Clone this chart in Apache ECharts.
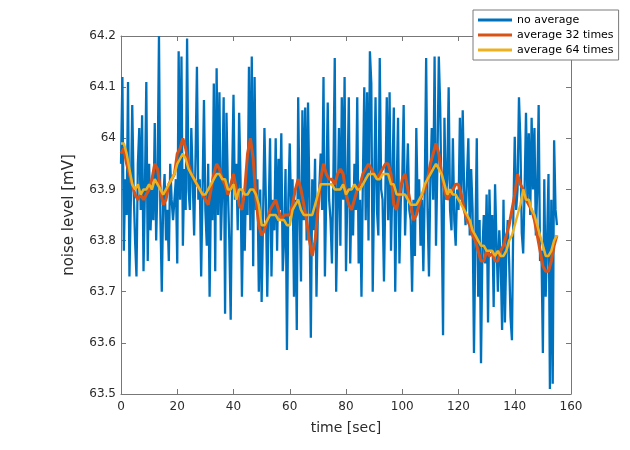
<!DOCTYPE html>
<html>
<head>
<meta charset="utf-8">
<script src="https://cdn.jsdelivr.net/npm/echarts@6/dist/echarts.min.js"></script>
<style>
html,body{margin:0;padding:0;background:#fff;}
#chart{width:630px;height:450px;}
</style>
</head>
<body>
<div id="chart"></div>
<script>
// ---- data ----
const seriesNames = ['no average', 'average 32 times', 'average 64 times'];
const xTicks = [0, 20, 40, 60, 80, 100, 120, 140, 160];
const yTicks = [63.5, 63.6, 63.7, 63.8, 63.9, 64, 64.1, 64.2];
const blueStep = 0.5;   // seconds per sample (no average)
const avgStep = 1;      // seconds per sample (averaged)
const noAverage = [
63.95,64.12, 63.78,63.92, 63.85,64.11, 63.73,63.88, 64.065,63.90,
63.80,63.73, 63.95,64.02, 63.86,64.045, 63.74,63.90, 64.11,63.76,
63.95,63.82, 63.90,63.84, 64.03,63.80, 63.92,64.20, 63.85,63.70,
63.88,63.93, 63.80,63.86, 63.76,63.95, 63.88,63.84, 63.84,63.92,
63.755,64.17, 63.88,64.16, 63.79,63.94, 63.86,64.195, 63.90,63.86,
64.02,63.92, 63.81,63.96, 64.14,63.88, 63.92,63.73, 63.90,64.075,
63.86,63.79, 63.95,63.69, 63.90,63.84, 64.107,63.74, 64.137,63.85,
64.09,63.80, 63.90,64.08, 63.657,64.05, 63.90,63.80, 63.645,63.92,
64.085,63.88, 63.95,63.82, 64.05,63.92, 63.69,63.88, 63.78,63.93,
63.85,64.14, 63.82,64.16, 63.75,64.12, 63.86,63.92, 63.70,63.90,
63.68,63.84, 64.02,63.88, 63.69,63.85, 64.00,63.73, 63.88,63.82,
64.00,63.78, 63.96,63.86, 64.01,63.74, 63.80,63.94, 63.586,63.88,
63.99,63.85, 63.92,63.69, 63.88,63.625, 64.08,63.86, 63.72,64.055,
63.84,64.06, 63.80,64.07, 63.88,63.61, 63.92,63.82, 63.96,63.69,
63.86,63.90, 63.97,63.86, 64.12,63.73, 63.90,64.07, 63.88,63.84,
63.755,63.92, 64.157,63.70, 63.86,64.02, 63.79,64.08, 63.88,64.12,
63.74,63.90, 64.08,63.755, 63.90,63.81, 63.95,63.86, 64.08,63.755,
63.88,63.69, 63.92,64.10, 63.84,64.09, 63.80,64.17, 64.107,63.70,
63.90,64.08, 63.86,63.81, 64.157,63.90, 63.88,63.72, 63.90,64.08,
63.84,64.09, 63.78,63.92, 64.06,63.70, 63.90,64.04, 63.755,63.88,
63.92,64.065, 63.81,63.90, 63.99,63.86, 63.84,63.70, 63.88,63.77,
64.02,63.86, 63.92,63.79, 63.88,63.74, 63.90,64.157, 63.86,63.73,
63.92,64.02, 63.88,64.16, 63.79,63.95, 64.16,64.06, 63.86,63.615,
64.04,63.88, 63.92,64.10, 63.86,63.82, 64.00,63.84, 63.79,63.90,
63.86,64.04, 63.88,64.055, 63.90,63.83, 63.92,64.00, 63.81,63.94,
63.86,63.58, 63.80,64.00, 63.69,63.84, 63.56,63.78, 63.85,63.755,
63.89,63.64, 63.90,63.78, 63.85,63.67, 63.91,63.80, 63.70,63.82,
63.76,63.625, 63.88,63.64, 63.78,63.84, 63.76,63.65, 63.605,63.85,
64.003,63.86, 63.90,64.08, 63.996,63.815, 63.775,63.90, 64.05,63.88,
64.01,63.85, 64.04,63.90, 64.02,63.81, 63.90,64.065, 63.76,63.78,
63.58,63.92, 63.69,63.80, 63.93,63.51, 63.88,63.52, 63.996,63.86,
63.83
];
const average32 = [
63.97,63.98,63.95,63.93,63.91,63.89,63.88,63.89,63.88,63.89,
63.90,63.92,63.95,63.94,63.90,63.87,63.88,63.91,63.92,63.93,
63.97,63.98,64.00,63.98,63.95,63.93,63.92,63.91,63.90,63.89,
63.88,63.87,63.90,63.93,63.95,63.94,63.92,63.91,63.89,63.91,
63.93,63.90,63.87,63.86,63.90,63.97,64.00,63.96,63.88,63.83,
63.81,63.82,63.84,63.86,63.87,63.88,63.86,63.84,63.85,63.85,
63.85,63.87,63.90,63.92,63.90,63.87,63.84,63.80,63.77,63.80,
63.86,63.92,63.95,63.93,63.92,63.92,63.91,63.93,63.94,63.93,
63.89,63.87,63.86,63.88,63.90,63.91,63.93,63.94,63.95,63.94,
63.93,63.92,63.93,63.94,63.95,63.95,63.93,63.87,63.86,63.89,
63.92,63.93,63.90,63.87,63.84,63.85,63.87,63.89,63.90,63.92,
63.95,63.97,63.99,63.97,63.93,63.90,63.88,63.89,63.90,63.91,
63.91,63.89,63.86,63.84,63.83,63.81,63.80,63.78,63.76,63.76,
63.78,63.77,63.775,63.76,63.76,63.78,63.79,63.81,63.83,63.86,
63.89,63.93,63.91,63.90,63.88,63.87,63.86,63.84,63.81,63.78,
63.75,63.74,63.74,63.76,63.79,63.81
];
const average64 = [
63.99,63.99,63.97,63.94,63.91,63.90,63.91,63.89,63.90,63.90,
63.91,63.90,63.92,63.91,63.90,63.89,63.90,63.91,63.92,63.93,
63.95,63.96,63.97,63.96,63.94,63.93,63.92,63.91,63.90,63.89,
63.89,63.90,63.91,63.92,63.93,63.93,63.92,63.92,63.90,63.90,
63.91,63.88,63.90,63.90,63.89,63.89,63.90,63.90,63.89,63.87,
63.83,63.83,63.84,63.85,63.85,63.85,63.84,63.84,63.84,63.83,
63.83,63.86,63.87,63.88,63.86,63.85,63.85,63.85,63.85,63.87,
63.89,63.91,63.91,63.91,63.91,63.91,63.90,63.90,63.90,63.91,
63.89,63.90,63.90,63.91,63.90,63.90,63.91,63.92,63.93,63.93,
63.93,63.92,63.92,63.93,63.93,63.93,63.91,63.91,63.89,63.89,
63.89,63.89,63.88,63.87,63.87,63.87,63.88,63.89,63.91,63.92,
63.93,63.94,63.95,63.94,63.93,63.91,63.89,63.90,63.89,63.89,
63.88,63.87,63.86,63.85,63.84,63.82,63.81,63.80,63.79,63.79,
63.78,63.78,63.78,63.77,63.78,63.77,63.77,63.78,63.80,63.81,
63.83,63.85,63.87,63.90,63.88,63.88,63.86,63.85,63.83,63.81,
63.79,63.77,63.77,63.78,63.80,63.81
];
const colors = ['#0072BD', '#D95319', '#EDB120'];

// ---- chart ----
const toPairs = (vals, step) => vals.map((v, i) => [i * step, v]);
const font = '"DejaVu Sans", "Liberation Sans", Arial, sans-serif';
const axisGray = '#777777';
const labelGray = '#2b2b2b';
const chart = echarts.init(document.getElementById('chart'), null, {renderer: 'canvas'});

function xAx(pos, show) {
  return {
    type: 'value', position: pos, min: xTicks[0], max: xTicks[xTicks.length - 1],
    interval: xTicks[1] - xTicks[0],
    name: show ? 'time [sec]' : '', nameLocation: 'middle', nameGap: 27,
    nameTextStyle: {fontFamily: font, fontSize: 14, color: labelGray},
    axisLine: {show: true, onZero: false, lineStyle: {color: axisGray, width: 1}},
    axisTick: {show: true, inside: true, length: 5, lineStyle: {color: axisGray}},
    axisLabel: {show: show, fontFamily: font, fontSize: 12, color: labelGray, margin: 7},
    splitLine: {show: false}
  };
}
function yAx(pos, show) {
  return {
    type: 'value', position: pos, min: yTicks[0], max: yTicks[yTicks.length - 1],
    interval: 0.1,
    name: show ? 'noise level [mV]' : '', nameLocation: 'middle', nameGap: 44,
    nameRotate: 90,
    nameTextStyle: {fontFamily: font, fontSize: 15, color: labelGray},
    axisLine: {show: true, onZero: false, lineStyle: {color: axisGray, width: 1}},
    axisTick: {show: true, inside: true, length: 5, lineStyle: {color: axisGray}},
    axisLabel: {show: show, fontFamily: font, fontSize: 12, color: labelGray, margin: 5,
      formatter: v => String(+v.toFixed(1))},
    splitLine: {show: false}
  };
}

chart.setOption({
  backgroundColor: '#ffffff',
  animation: false,
  grid: {left: 121, right: 59, top: 36, bottom: 56, containLabel: false},
  xAxis: [xAx('bottom', true), xAx('top', false)],
  yAxis: [yAx('left', true), yAx('right', false)],
  legend: {
    data: seriesNames,
    orient: 'vertical',
    left: 473, top: 10,
    padding: [4, 5, 4, 5],
    itemGap: 3,
    itemWidth: 34, itemHeight: 3,
    icon: 'rect',
    backgroundColor: '#ffffff',
    borderColor: '#7a7a7a', borderWidth: 1,
    textStyle: {fontFamily: font, fontSize: 11, color: '#000', lineHeight: 12}
  },
  series: [
    {name: seriesNames[0], type: 'line', data: toPairs(noAverage, blueStep), showSymbol: false,
     symbol: 'none', lineStyle: {color: colors[0], width: 2.3}, itemStyle: {color: colors[0]}, z: 2},
    {name: seriesNames[1], type: 'line', data: toPairs(average32, avgStep), showSymbol: false,
     symbol: 'none', lineStyle: {color: colors[1], width: 3}, itemStyle: {color: colors[1]}, z: 3},
    {name: seriesNames[2], type: 'line', data: toPairs(average64, avgStep), showSymbol: false,
     symbol: 'none', lineStyle: {color: colors[2], width: 2.5}, itemStyle: {color: colors[2]}, z: 4}
  ]
});
</script>
</body>
</html>
